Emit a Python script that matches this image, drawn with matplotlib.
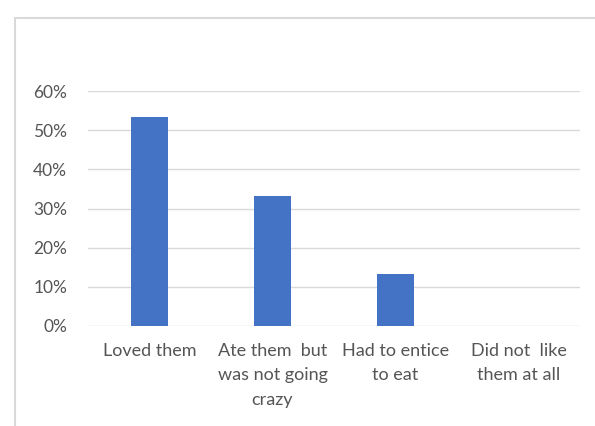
import matplotlib
matplotlib.use("Agg")
import matplotlib.pyplot as plt
from matplotlib.patches import Rectangle
from matplotlib.ticker import PercentFormatter

categories = ["Loved them", "Ate them  but\nwas not going\ncrazy", "Had to entice\nto eat", "Did not  like\nthem at all"]
values = [0.533, 0.333, 0.133, 0.0]
yticks = [0, 0.1, 0.2, 0.3, 0.4, 0.5, 0.6]

plt.rcParams['font.family'] = ['Lato', 'DejaVu Sans']
W, H = 595, 426
fig = plt.figure(figsize=(W/100, H/100), dpi=100)

# outer chart frame
fig.patches.append(Rectangle((15/W, -0.1), 1.2, 1 - 18/H + 0.1, transform=fig.transFigure,
                             fill=False, edgecolor='#d9d9d9', linewidth=1.5))

ax = fig.add_axes([88/W, 1-326/H, (580-88)/W, (326-91)/H])
x = range(len(categories))
ax.bar(x, values, width=0.3, color='#4472C4', zorder=3)
ax.set_xlim(-0.5, 3.5)
ax.set_ylim(0, 0.6)
ax.set_yticks(yticks)
ax.yaxis.set_major_formatter(PercentFormatter(1.0, decimals=0))
ax.grid(axis='y', color='#d9d9d9', linewidth=1, zorder=0)
ax.set_axisbelow(True)
for s in ax.spines.values():
    s.set_visible(False)
ax.tick_params(length=0, colors='#595959')
ax.tick_params(axis='y', pad=15, labelsize=12.5)
ax.tick_params(axis='x', pad=12, labelsize=13)
ax.set_xticks(list(x))
ax.set_xticklabels(categories, linespacing=1.65)
for lbl in ax.get_xticklabels() + ax.get_yticklabels():
    lbl.set_color('#555555')
fig.savefig("out.png", dpi=100)
